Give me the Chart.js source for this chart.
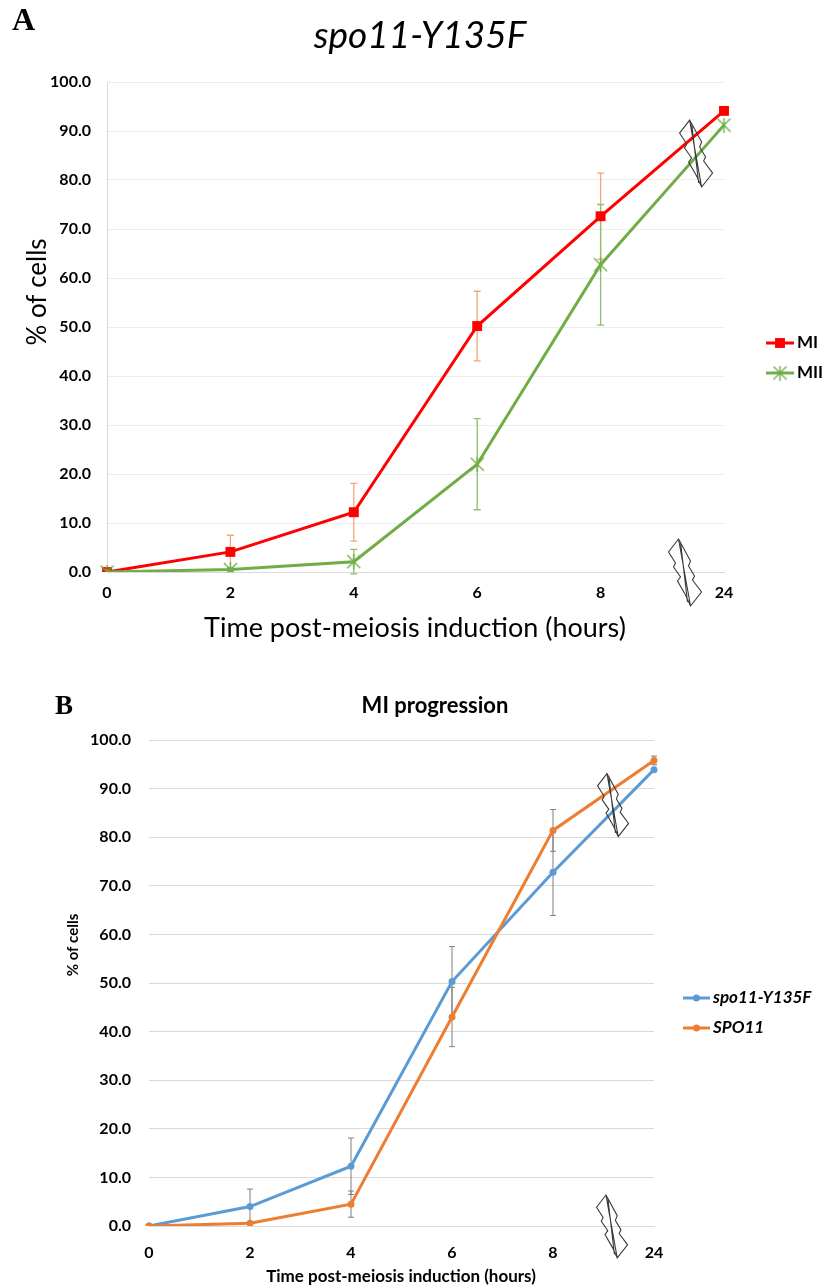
<!DOCTYPE html>
<html>
<head>
<meta charset="utf-8">
<script src="https://cdn.jsdelivr.net/npm/chart.js@4.4.1/dist/chart.umd.min.js"></script>
<style>
  body { margin: 0; background: #fff; }
  #wrap { position: relative; width: 824px; height: 1286px; }
  canvas { position: absolute; left: 0; }
  #chartA { top: 0; }
  #chartB { top: 650px; }
</style>
</head>
<body>
<div id="wrap">
  <canvas id="chartA" width="824" height="650"></canvas>
  <canvas id="chartB" width="824" height="636"></canvas>
</div>
<script>
// time points (hours after induction) and % axis ticks
const hours = ['0', '2', '4', '6', '8', '24'];
const pctTicks = [0, 10, 20, 30, 40, 50, 60, 70, 80, 90, 100];

// panel A: spo11-Y135F, MI and MII (mean, sd)
const miMean = [0, 4.1, 12.2, 50.2, 72.6, 94.1];
const miSd = [0, 3.4, 5.9, 7.1, 8.8, 0];
const miiMean = [0, 0.5, 2.1, 22.0, 62.7, 91.2];
const miiSd = [0, 0.4, 2.5, 9.3, 12.3, 0];

// panel B: MI progression, mutant vs wild type
const y135fMean = [0, 4.0, 12.3, 50.3, 72.8, 93.9];
const y135fSd = [0, 3.6, 5.8, 7.2, 8.9, 0];
const wtMean = [0, 0.55, 4.5, 43.0, 81.4, 95.8];
const wtSd = [0, 0.3, 2.7, 6.1, 4.3, 0.9];

const SANS = 'Lato, "Open Sans", sans-serif';
const SERIF = '"Liberation Serif", "DejaVu Serif", serif';

// Excel-style star marker: an X with a vertical bar
function starMarker(color, size) {
  const c = document.createElement('canvas');
  c.width = size; c.height = size;
  const g = c.getContext('2d');
  g.strokeStyle = color;
  g.lineWidth = 1.4;
  g.beginPath();
  g.moveTo(1, 1); g.lineTo(size - 1, size - 1);
  g.moveTo(size - 1, 1); g.lineTo(1, size - 1);
  g.moveTo(size / 2, 0); g.lineTo(size / 2, size);
  g.stroke();
  return c;
}

const errorBars = {
  id: 'errorBars',
  beforeDatasetsDraw(chart, args, opts) {
    const ctx = chart.ctx;
    const ys = chart.scales.y;
    chart.data.datasets.forEach((ds, di) => {
      if (!ds.sd) return;
      const meta = chart.getDatasetMeta(di);
      ctx.save();
      ctx.strokeStyle = ds.errColor;
      ctx.lineWidth = opts.width;
      ds.sd.forEach((e, i) => {
        if (!e) return;
        const x = meta.data[i].x;
        const top = ys.getPixelForValue(ds.data[i] + e);
        const bot = ys.getPixelForValue(ds.data[i] - e);
        const h = opts.cap / 2;
        ctx.beginPath();
        ctx.moveTo(x, top); ctx.lineTo(x, bot);
        ctx.moveTo(x - h, top); ctx.lineTo(x + h, top);
        ctx.moveTo(x - h, bot); ctx.lineTo(x + h, bot);
        ctx.stroke();
      });
      ctx.restore();
    });
  }
};

// outline of the axis-break symbol, relative to its centre
const breakOutline = [[-6, -33], [-16, -20], [-9, -9], [-11, -5], [-4, 5], [-7, 9], [1, 23], [6, 34],
  [17, 20], [8, 8], [10, 4], [4, -6], [6, -11]];

const breakMarks = {
  id: 'breakMarks',
  afterDatasetsDraw(chart, args, opts) {
    const ctx = chart.ctx;
    const xs = chart.scales.x, ys = chart.scales.y;
    const x0 = xs.getPixelForValue(4), x1 = xs.getPixelForValue(5);
    opts.marks.forEach(m => {
      const cx = x0 + m.frac * (x1 - x0);
      const cy = ys.getPixelForValue(m.value);
      const k = opts.scale;
      ctx.save();
      ctx.strokeStyle = '#3a3a3a';
      ctx.lineWidth = 1.1;
      ctx.beginPath();
      breakOutline.forEach((p, i) => {
        const px = cx + p[0] * k, py = cy + p[1] * k;
        if (i === 0) ctx.moveTo(px, py); else ctx.lineTo(px, py);
      });
      ctx.closePath();
      ctx.moveTo(cx - 6 * k, cy - 33 * k); ctx.lineTo(cx + 6 * k, cy + 34 * k);
      ctx.moveTo(cx - 4 * k, cy - 30 * k); ctx.lineTo(cx + 3 * k, cy + 30 * k);
      ctx.stroke();
      ctx.restore();
    });
  }
};

// free text: panel letter, titles, axis titles, legend
const annotate = {
  id: 'annotate',
  afterDraw(chart, args, opts) {
    const ctx = chart.ctx;
    ctx.save();
    ctx.fillStyle = '#000';
    opts.texts.forEach(t => {
      ctx.save();
      ctx.font = t.font;
      ctx.textAlign = t.align || 'center';
      ctx.textBaseline = 'middle';
      ctx.translate(t.x, t.y);
      if (t.rotate) ctx.rotate(t.rotate);
      ctx.fillText(t.text, 0, 0);
      ctx.restore();
    });
    opts.legend.forEach(item => {
      const ds = chart.data.datasets[item.index];
      ctx.strokeStyle = ds.borderColor;
      ctx.lineWidth = ds.borderWidth;
      ctx.beginPath();
      ctx.moveTo(item.x, item.y); ctx.lineTo(item.x + item.w, item.y);
      ctx.stroke();
      const mx = item.x + item.w / 2;
      if (ds.pointStyle instanceof HTMLCanvasElement) {
        ctx.drawImage(ds.pointStyle, mx - ds.pointStyle.width / 2, item.y - ds.pointStyle.height / 2);
      } else if (ds.pointStyle === 'rect') {
        const s = ds.pointRadius * Math.SQRT1_2;
        ctx.fillStyle = ds.pointBackgroundColor;
        ctx.fillRect(mx - s, item.y - s, 2 * s, 2 * s);
      } else {
        ctx.fillStyle = ds.pointBackgroundColor;
        ctx.beginPath();
        ctx.arc(mx, item.y, ds.pointRadius, 0, Math.PI * 2);
        ctx.fill();
      }
      ctx.fillStyle = '#000';
      ctx.font = item.font;
      ctx.textAlign = 'left';
      ctx.textBaseline = 'middle';
      ctx.fillText(ds.label, item.x + item.w + 3, item.y);
    });
    ctx.restore();
  }
};

function pctAxis(width, pad, gridColor, showBorder) {
  return {
    min: 0, max: 100,
    afterBuildTicks: s => { s.ticks = pctTicks.map(v => ({ value: v })); },
    afterFit: s => { s.width = width; },
    ticks: { callback: v => v.toFixed(1), padding: pad, color: '#000',
      font: { family: SANS, weight: 'bold', size: 16 } },
    grid: { color: gridColor, lineWidth: 1, drawTicks: false },
    border: { display: showBorder, color: '#d9d9d9' }
  };
}

function hourAxis(pad) {
  return {
    offset: false,
    afterFit: s => { s.height = 40; },
    grid: { display: false, drawTicks: false },
    border: { display: true, color: '#d9d9d9' },
    ticks: { padding: pad, color: '#000', maxRotation: 0, autoSkip: false,
      font: { family: SANS, weight: 'bold', size: 16 } }
  };
}

new Chart(document.getElementById('chartA'), {
  type: 'line',
  data: {
    labels: hours,
    datasets: [
      { label: 'MI', data: miMean, sd: miSd, errColor: '#f4a677', order: 2,
        borderColor: '#ff0000', borderWidth: 3, pointStyle: 'rect', pointRadius: 7,
        pointBackgroundColor: '#ff0000', pointBorderColor: '#ff0000', pointBorderWidth: 0 },
      { label: 'MII', data: miiMean, sd: miiSd, errColor: '#8fc06c', order: 1,
        borderColor: '#70ad47', borderWidth: 3, pointStyle: starMarker('#70ad47', 15), pointRadius: 7,
        pointBackgroundColor: '#70ad47', pointBorderColor: '#70ad47' }
    ]
  },
  options: {
    responsive: false, animation: false,
    layout: { padding: { top: 82, right: 100, bottom: 38, left: 0 } },
    elements: { line: { tension: 0 } },
    scales: { x: hourAxis(11), y: pctAxis(107, 16, '#ededed', true) },
    plugins: {
      legend: { display: false }, tooltip: { enabled: false },
      errorBars: { width: 1.3, cap: 7 },
      breakMarks: { scale: 1, marks: [{ frac: 0.77, value: 85.5 }, { frac: 0.68, value: 0 }] },
      annotate: {
        texts: [
          { text: 'A', x: 12, y: 22, font: `bold 32px ${SERIF}`, align: 'left' },
          { text: 'spo11-Y135F', x: 420, y: 36, font: `italic 37px ${SANS}` },
          { text: 'Time post-meiosis induction (hours)', x: 415, y: 628, font: `27px ${SANS}` },
          { text: '% of cells', x: 38, y: 292, font: `26px ${SANS}`, rotate: -Math.PI / 2 }
        ],
        legend: [
          { index: 0, x: 766, y: 343, w: 28, font: `bold 17px ${SANS}` },
          { index: 1, x: 766, y: 373, w: 28, font: `bold 17px ${SANS}` }
        ]
      }
    }
  },
  plugins: [errorBars, breakMarks, annotate]
});

new Chart(document.getElementById('chartB'), {
  type: 'line',
  data: {
    labels: hours,
    datasets: [
      { label: 'spo11-Y135F', data: y135fMean, sd: y135fSd, errColor: '#7f7f7f', order: 2,
        borderColor: '#5b9bd5', borderWidth: 3, pointStyle: 'circle', pointRadius: 3.5,
        pointBackgroundColor: '#5b9bd5', pointBorderColor: '#5b9bd5', pointBorderWidth: 0 },
      { label: 'SPO11', data: wtMean, sd: wtSd, errColor: '#7f7f7f', order: 1,
        borderColor: '#ed7d31', borderWidth: 3, pointStyle: 'circle', pointRadius: 3.5,
        pointBackgroundColor: '#ed7d31', pointBorderColor: '#ed7d31', pointBorderWidth: 0 }
    ]
  },
  options: {
    responsive: false, animation: false,
    layout: { padding: { top: 90, right: 170, bottom: 20, left: 0 } },
    elements: { line: { tension: 0 } },
    scales: { x: hourAxis(17), y: pctAxis(149, 18, '#d9d9d9', false) },
    plugins: {
      legend: { display: false }, tooltip: { enabled: false },
      errorBars: { width: 1, cap: 6 },
      breakMarks: { scale: 0.94, marks: [{ frac: 0.59, value: 86.7 }, { frac: 0.58, value: 0 }] },
      annotate: {
        texts: [
          { text: 'B', x: 55, y: 57, font: `bold 27px ${SERIF}`, align: 'left' },
          { text: 'MI progression', x: 435, y: 56, font: `bold 22px ${SANS}` },
          { text: 'Time post-meiosis induction (hours)', x: 401, y: 627, font: `bold 17px ${SANS}` },
          { text: '% of cells', x: 73, y: 295, font: `bold 15px ${SANS}`, rotate: -Math.PI / 2 }
        ],
        legend: [
          { index: 0, x: 683, y: 348, w: 27, font: `italic bold 17px ${SANS}` },
          { index: 1, x: 683, y: 378, w: 27, font: `italic bold 17px ${SANS}` }
        ]
      }
    }
  },
  plugins: [errorBars, breakMarks, annotate]
});
</script>
</body>
</html>
